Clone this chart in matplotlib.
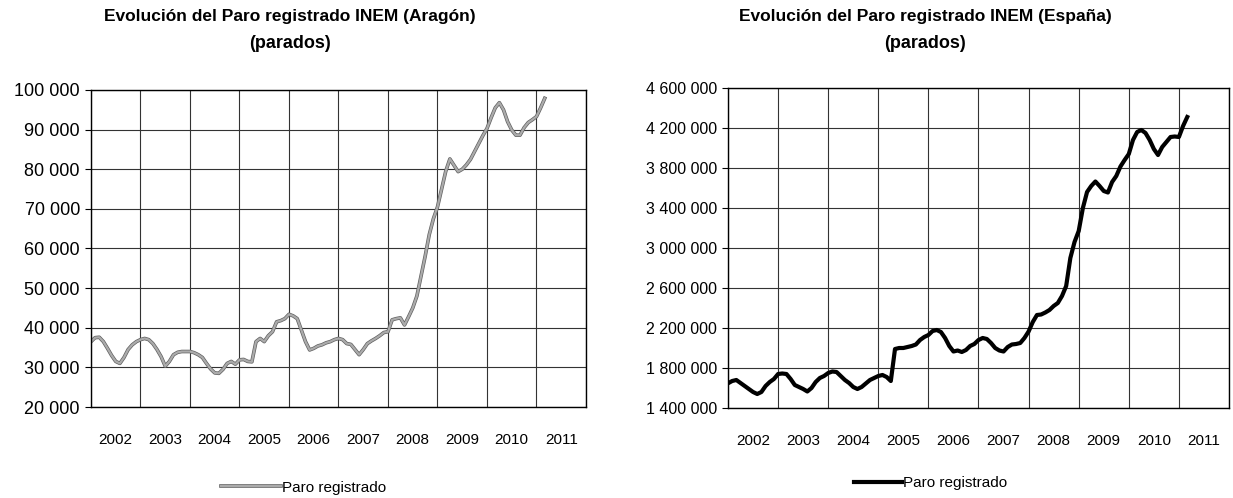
import numpy as np
import matplotlib
matplotlib.use('Agg')
from matplotlib import pyplot as plt
from matplotlib.ticker import FixedLocator, FuncFormatter
import matplotlib.patheffects as pe

plt.rcParams['font.family'] = ['Liberation Sans', 'DejaVu Sans']

# monthly values, Jan 2002 .. Mar 2011
aragon = [
    36500, 37500, 37600, 36500, 34800, 33000, 31500, 31000, 32500, 34500, 35700, 36500,  # 2002
    37000, 37300, 37000, 36000, 34500, 32700, 30300, 31500, 33200, 33800, 34000, 34000,  # 2003
    34000, 33700, 33200, 32500, 31000, 29600, 28600, 28500, 29500, 31000, 31500, 30800,  # 2004
    31900, 32000, 31500, 31400, 36500, 37300, 36500, 38000, 39000, 41500, 41800, 42300,  # 2005
    43400, 43000, 42300, 39400, 36500, 34400, 34800, 35400, 35700, 36200, 36500, 37000,  # 2006
    37300, 37000, 36000, 35800, 34500, 33200, 34500, 36000, 36700, 37300, 38000, 38800,  # 2007
    39000, 42000, 42300, 42500, 40700, 42800, 45000, 48000, 53000, 58000, 63500, 67500,  # 2008
    70500, 75000, 79500, 82600, 81000, 79400, 80000, 81100, 82500, 84500, 86500, 88500,  # 2009
    90300, 93000, 95500, 96800, 95000, 92000, 89900, 88600, 88600, 90500, 91800, 92500,  # 2010
    93300, 95500, 97900,                                                                  # 2011
]

espana = [
    1647000, 1670000, 1680000, 1650000, 1620000, 1590000, 1560000, 1540000, 1560000, 1620000, 1660000, 1690000,
    1740000, 1745000, 1740000, 1690000, 1630000, 1610000, 1590000, 1565000, 1600000, 1660000, 1700000, 1720000,
    1750000, 1765000, 1760000, 1720000, 1680000, 1650000, 1610000, 1590000, 1610000, 1645000, 1680000, 1700000,
    1720000, 1730000, 1710000, 1670000, 1990000, 2000000, 2000000, 2010000, 2020000, 2035000, 2080000, 2110000,
    2130000, 2170000, 2180000, 2160000, 2100000, 2020000, 1965000, 1975000, 1960000, 1980000, 2020000, 2040000,
    2080000, 2100000, 2090000, 2050000, 2000000, 1975000, 1965000, 2010000, 2035000, 2040000, 2050000, 2100000,
    2165000, 2260000, 2330000, 2335000, 2355000, 2380000, 2420000, 2450000, 2520000, 2620000, 2900000, 3060000,
    3170000, 3400000, 3560000, 3620000, 3665000, 3620000, 3570000, 3555000, 3660000, 3720000, 3815000, 3880000,
    3940000, 4080000, 4160000, 4180000, 4150000, 4080000, 3990000, 3930000, 4010000, 4060000, 4110000, 4115000,
    4110000, 4220000, 4310000,
]

years = list(range(2002, 2012))
title_main = ['Evolución del Paro registrado INEM (Aragón)',
              'Evolución del Paro registrado INEM (España)']
title_sub = '(parados)'
legend_label = 'Paro registrado'

aragon_ticks = list(range(20000, 100001, 10000))
espana_ticks = list(range(1400000, 4600001, 400000))

months = 2002 + np.arange(len(aragon)) / 12.0


def thousands(v, pos=None):
    return f'{v:,.0f}'.replace(',', ' ')


def setup(ax, yticks, ysize):
    ax.set_xlim(years[0], years[-1] + 1)
    ax.set_ylim(yticks[0], yticks[-1])
    ax.xaxis.set_major_locator(FixedLocator(years + [years[-1] + 1]))
    ax.xaxis.set_minor_locator(FixedLocator([y + 0.5 for y in years]))
    ax.xaxis.set_major_formatter(FuncFormatter(lambda v, p: ''))
    ax.xaxis.set_minor_formatter(FuncFormatter(lambda v, p: str(int(v))))
    ax.tick_params(axis='x', which='both', length=0, labelsize=11, pad=19)
    ax.set_yticks(yticks)
    ax.yaxis.set_major_formatter(FuncFormatter(thousands))
    ax.tick_params(axis='y', length=4, width=0.8, labelsize=ysize, pad=4)
    ax.grid(True, which='major', color='#333333', linewidth=0.8)
    for s in ax.spines.values():
        s.set_linewidth(1.0)
        s.set_color('black')


fig = plt.figure(figsize=(12.33, 4.98), dpi=100)
ax1 = fig.add_axes([91 / 1233, 1 - 407 / 498, 495 / 1233, 317 / 498])
ax2 = fig.add_axes([728 / 1233, 1 - 408 / 498, 501 / 1233, 320 / 498])

setup(ax1, aragon_ticks, 13)
setup(ax2, espana_ticks, 11.5)

ax1.plot(months, aragon, color='#ababab', linewidth=1.6, label=legend_label,
         path_effects=[pe.Stroke(linewidth=2.6, foreground='#606060'), pe.Normal()])
ax2.plot(months, espana, color='black', linewidth=3.0, label=legend_label,
         solid_joinstyle='round')

ax1.legend(loc='center', bbox_to_anchor=(0.43, -0.255), frameon=False, fontsize=11,
           handlelength=3.9, handletextpad=0.1)
ax2.legend(loc='center', bbox_to_anchor=(0.405, -0.234), frameon=False, fontsize=11,
           handlelength=3.1, handletextpad=0.1)

for cx, t in zip([290, 925], title_main):
    fig.text(cx / 1233, 1 - 17 / 498, t, ha='center', va='center',
             fontsize=12.5, fontweight='bold')
    fig.text(cx / 1233, 1 - 43 / 498, title_sub, ha='center', va='center',
             fontsize=13, fontweight='bold')

fig.savefig('out.png', dpi=100)
